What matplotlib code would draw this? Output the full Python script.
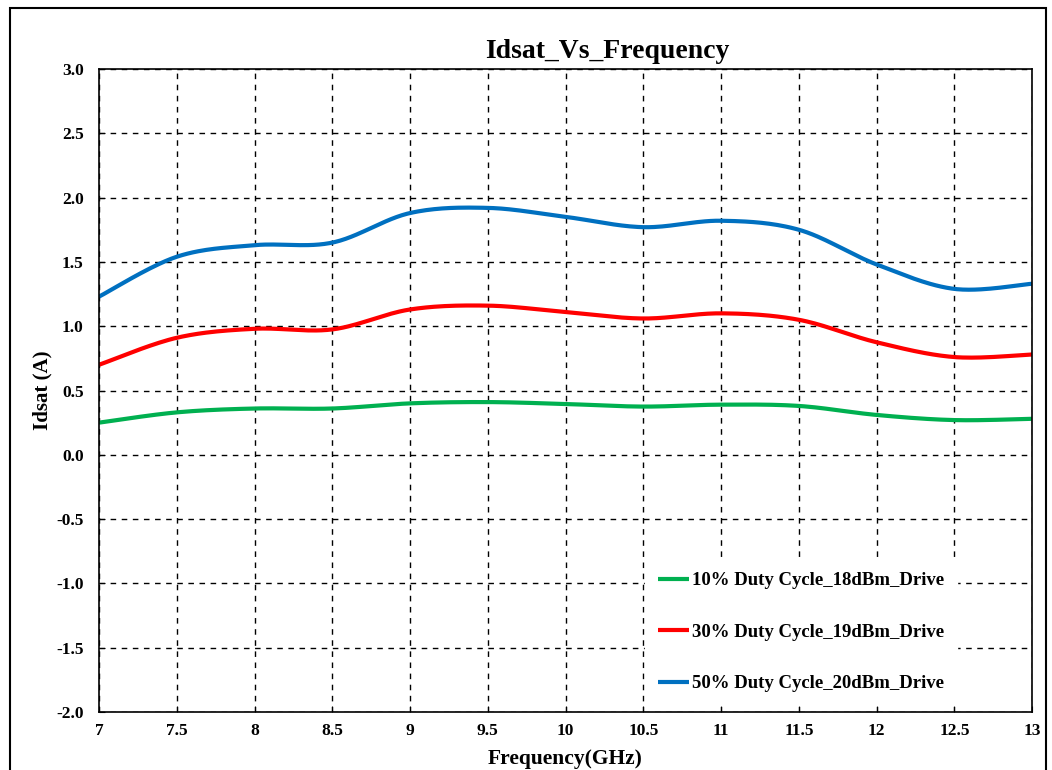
import matplotlib.pyplot as plt
import numpy as np
from matplotlib.patches import Rectangle

# Dati
freq = [7, 7.5, 8, 8.5, 9, 9.5, 10, 10.5, 11, 11.5, 12, 12.5, 13]
idsat_10 = [0.25, 0.33, 0.36, 0.36, 0.40, 0.41, 0.395, 0.375, 0.39, 0.38, 0.31, 0.27, 0.28]
idsat_30 = [0.70, 0.91, 0.98, 0.975, 1.13, 1.16, 1.11, 1.06, 1.10, 1.05, 0.875, 0.76, 0.78]
idsat_50 = [1.23, 1.54, 1.63, 1.65, 1.88, 1.92, 1.85, 1.77, 1.82, 1.75, 1.48, 1.29, 1.33]

labels = ["10% Duty Cycle_18dBm_Drive", "30% Duty Cycle_19dBm_Drive", "50% Duty Cycle_20dBm_Drive"]
colors = ["#00B050", "#FF0000", "#0070C0"]


def smooth(x, y, n=30):
    # linea "smussata" stile Excel (Bezier con punti di controllo Catmull-Rom)
    x = np.asarray(x, float)
    y = np.asarray(y, float)
    px = np.concatenate([[x[0]], x, [x[-1]]])
    py = np.concatenate([[y[0]], y, [y[-1]]])
    xs, ys = [], []
    t = np.linspace(0, 1, n)
    for i in range(1, len(px) - 2):
        p0 = np.array([px[i], py[i]])
        p3 = np.array([px[i + 1], py[i + 1]])
        c1 = p0 + (np.array([px[i + 1], py[i + 1]]) - np.array([px[i - 1], py[i - 1]])) / 6
        c2 = p3 - (np.array([px[i + 2], py[i + 2]]) - np.array([px[i], py[i]])) / 6
        b = ((1 - t) ** 3)[:, None] * p0 + (3 * (1 - t) ** 2 * t)[:, None] * c1 \
            + (3 * (1 - t) * t ** 2)[:, None] * c2 + (t ** 3)[:, None] * p3
        xs.extend(b[:, 0])
        ys.extend(b[:, 1])
    return xs, ys


plt.rcParams['font.family'] = ['Liberation Serif', 'DejaVu Serif']
plt.rcParams['font.weight'] = 'bold'

fig = plt.figure(figsize=(10.52, 7.7), dpi=100)
ax = fig.add_axes([0.0941, 0.0753, 0.887, 0.8351])

for serie, lab, col in zip([idsat_10, idsat_30, idsat_50], labels, colors):
    sx, sy = smooth(freq, serie)
    ax.plot(sx, sy, color=col, linewidth=3, label=lab, solid_capstyle='butt')

ax.set_xlim(7, 13)
ax.set_ylim(-2, 3)
ax.set_xticks(freq)
ax.set_xticklabels([f"{v:g}" for v in freq])
ax.set_yticks(np.arange(-2, 3.01, 0.5))
ax.set_yticklabels([f"{v:.1f}" for v in np.arange(-2, 3.01, 0.5)])
ax.tick_params(direction='in', length=4, labelsize=12.5)
ax.tick_params(axis='y', pad=11)
ax.tick_params(axis='x', pad=8)
for lbl in ax.get_xticklabels() + ax.get_yticklabels():
    lbl.set_fontweight('bold')

ax.grid(True, color='black', linestyle=(0, (4, 4)), linewidth=1)
for sp in ax.spines.values():
    sp.set_linewidth(1.2)

ax.set_title("Idsat_Vs_Frequency", fontsize=20, fontweight='bold', x=0.545, pad=8)
ax.set_xlabel("Frequency(GHz)", fontsize=15.5, fontweight='bold', labelpad=7)
ax.set_ylabel("Idsat (A)", fontsize=15, fontweight='bold', labelpad=3)

leg = ax.legend(loc='upper left', bbox_to_anchor=(0.585, 0.238), fontsize=13.5,
                frameon=True, edgecolor='white', facecolor='white', framealpha=1,
                fancybox=False, labelspacing=1.83, handlelength=1.65, handletextpad=0.15,
                borderpad=0.7, borderaxespad=0)
for t in leg.get_texts():
    t.set_fontweight('bold')

# bordo esterno della figura
fig.patches.append(Rectangle((0.0095, -0.05), 0.985, 1.04, transform=fig.transFigure,
                             fill=False, edgecolor='black', linewidth=1.5))

fig.savefig("out.png", dpi=100)
